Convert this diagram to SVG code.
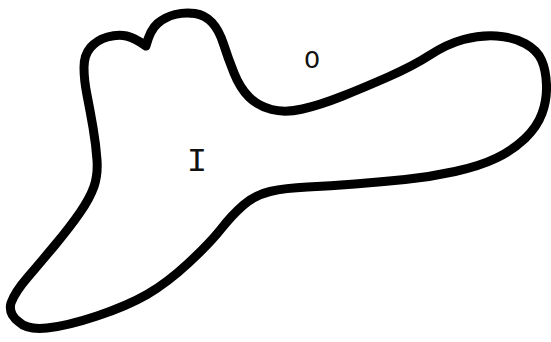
<svg xmlns="http://www.w3.org/2000/svg" width="551" height="342" viewBox="0 0 551 342">
<style>
.curve{fill:none;stroke:#000;stroke-width:9;stroke-linejoin:round;stroke-linecap:round}
.lbl{font-family:"Liberation Mono","DejaVu Sans Mono",monospace;fill:#111;text-anchor:middle}
</style>
<rect width="551" height="342" fill="#fff"/>
<g id="region">
<path class="curve" d="M146,46 Q150,30 157.5,23.5 Q165,17 175,14.5 Q185,12 195,13.5 Q205,15 212,22.5 Q219,30 223.5,44 Q228,58 234,73 Q240,88 249,97 Q258,106 271.5,109.5 Q285,113 302.5,109 Q320,105 341.5,96.5 Q363,88 388,77 Q413,66 430,55 Q447,44 463.5,39.5 Q480,35 496.5,36 Q513,37 525,43.5 Q537,50 541.5,60 Q546,70 546.5,85 Q547,100 542,113.5 Q537,127 525,138.5 Q513,150 496.5,158 Q480,166 455,171.5 Q430,177 405,179.5 Q380,182 355,184 Q330,186 307.5,187 Q285,188 270,191.5 Q255,195 243.5,205 Q232,215 221,229 Q210,243 188.5,263 Q167,283 147,294.5 Q127,306 97,316 Q67,326 47,328 Q27,330 19,322 Q8,314 11,303 Q15,292 27.5,277.5 Q40,263 55,245 Q70,227 80,212.5 Q90,198 94,186.5 Q98,175 97,160 Q96,145 93,127.5 Q90,110 87,95 Q84,80 84,67.5 Q84,55 90.5,47.5 Q97,40 107.5,37 Q118,34 126.5,36 Q135,38 146,46 Z"/>
</g>
<g id="label-I"><text class="lbl" x="197" y="171" font-size="34">I</text></g>
<g id="label-O"><text class="lbl" x="312" y="68" font-size="26">O</text></g>
</svg>
